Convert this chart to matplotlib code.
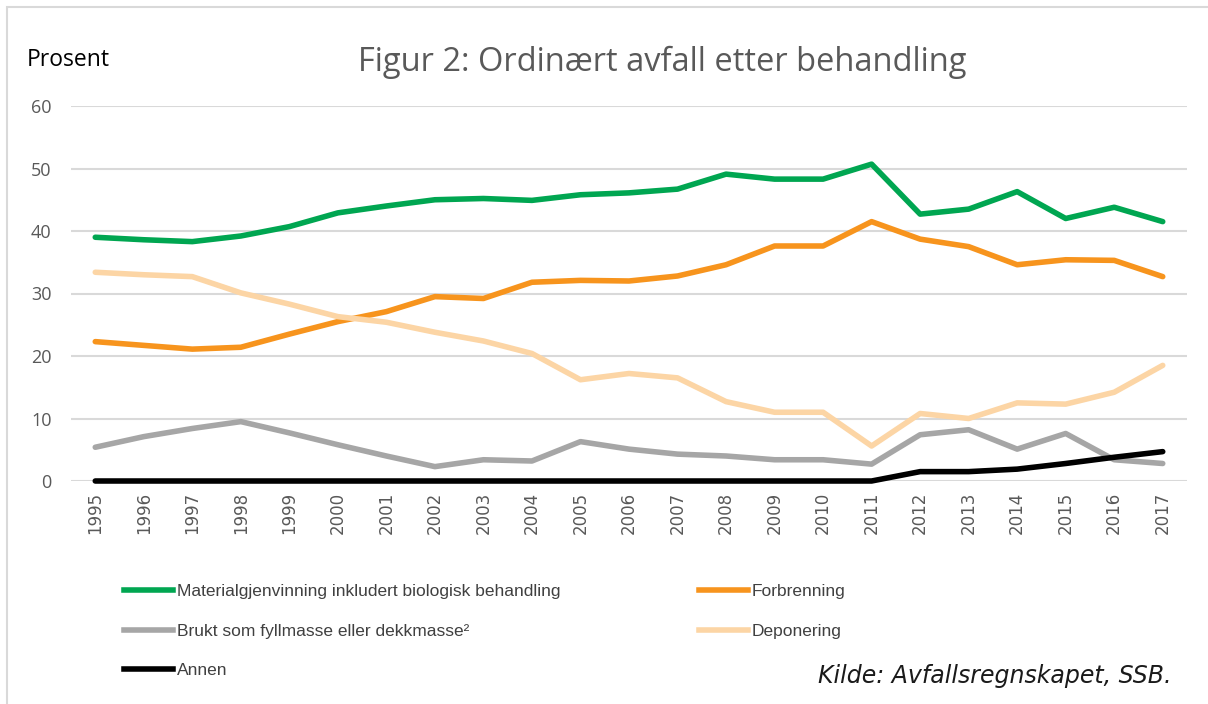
import matplotlib.pyplot as plt
from matplotlib.lines import Line2D
from matplotlib.patches import Rectangle

years = [str(y) for y in range(1995, 2018)]

materialgjenvinning = [39.0, 38.6, 38.3, 39.2, 40.7, 42.9, 44.0, 45.0, 45.2, 44.9, 45.8, 46.1,
                       46.7, 49.1, 48.3, 48.3, 50.7, 42.7, 43.5, 46.3, 42.0, 43.8, 41.5]
forbrenning = [22.3, 21.7, 21.1, 21.4, 23.5, 25.5, 27.1, 29.5, 29.2, 31.8, 32.1, 32.0,
               32.8, 34.6, 37.6, 37.6, 41.5, 38.7, 37.5, 34.6, 35.4, 35.3, 32.7]
brukt = [5.4, 7.1, 8.4, 9.5, 7.7, 5.8, 4.0, 2.3, 3.4, 3.2, 6.3, 5.1,
         4.3, 4.0, 3.4, 3.4, 2.7, 7.4, 8.2, 5.1, 7.6, 3.4, 2.8]
deponering = [33.4, 33.0, 32.7, 30.1, 28.3, 26.3, 25.4, 23.8, 22.4, 20.4, 16.2, 17.2,
              16.5, 12.7, 11.0, 11.0, 5.6, 10.8, 10.0, 12.5, 12.3, 14.2, 18.5]
annen = [0, 0, 0, 0, 0, 0, 0, 0, 0, 0, 0, 0,
         0, 0, 0, 0, 0, 1.5, 1.5, 1.9, 2.8, 3.8, 4.7]

labels = ["Materialgjenvinning inkludert biologisk behandling", "Forbrenning",
          "Brukt som fyllmasse eller dekkmasse\u00b2", "Deponering", "Annen"]
colors = ["#00A651", "#F7941D", "#A6A6A6", "#FCD5A5", "#000000"]
series = [materialgjenvinning, forbrenning, brukt, deponering, annen]

fig = plt.figure(figsize=(12.08, 7.04), dpi=100)
ax = fig.add_axes([71 / 1208, 1 - 481 / 704, 1116 / 1208, 375 / 704])

x = list(range(len(years)))
for vals, col in zip(series, colors):
    ax.plot(x, vals, color=col, lw=4, solid_capstyle="round", clip_on=False)

ax.set_xlim(-0.5, len(years) - 0.5)
ax.set_ylim(0, 60)
ax.set_yticks(range(0, 61, 10))
ax.set_xticks(x)
ax.set_xticklabels(years, rotation=90, fontsize=12, color="#595959")
ax.tick_params(axis="y", labelsize=13, labelcolor="#595959", length=0, pad=14)
ax.tick_params(axis="x", length=0, pad=8)
for lbl in ax.get_yticklabels():
    lbl.set_family("Open Sans")
ax.grid(axis="y", color="#D9D9D9", lw=1.5)
ax.set_axisbelow(True)
for s in ax.spines.values():
    s.set_visible(False)

fig.text(662 / 1208, 1 - 62 / 704, "Figur 2: Ordinært avfall etter behandling",
         ha="center", va="center", fontsize=23.5, color="#595959", family="Open Sans")
fig.text(27 / 1208, 1 - 60 / 704, "Prosent", ha="left", va="center",
         fontsize=16.5, color="black", family="Open Sans")
fig.text(1172 / 1208, 1 - 676 / 704, "Kilde: Avfallsregnskapet, SSB.", ha="right",
         va="center", fontsize=17, style="italic", color="#1a1a1a", family="DejaVu Sans")

handles = [Line2D([], [], color=c, lw=4) for c in colors]
legfont = {"family": ["Liberation Sans Narrow", "Liberation Sans"], "size": 12.5}
common = dict(loc="upper left", frameon=False, prop=legfont, handlelength=2.8,
              handletextpad=0.25, labelspacing=1.4, labelcolor="#404040",
              borderaxespad=0, borderpad=0)
fig.legend([handles[0], handles[2], handles[4]], [labels[0], labels[2], labels[4]],
           bbox_to_anchor=(124 / 1208, 1 - 584 / 704), **common)
fig.legend([handles[1], handles[3]], [labels[1], labels[3]],
           bbox_to_anchor=(699 / 1208, 1 - 584 / 704), **common)

fig.patches.append(Rectangle((7 / 1208, -0.01), 1.5, 1 - 7 / 704 + 0.01,
                             transform=fig.transFigure, fill=False,
                             edgecolor="#D9D9D9", lw=1.5))

fig.savefig("out.png", dpi=100)
